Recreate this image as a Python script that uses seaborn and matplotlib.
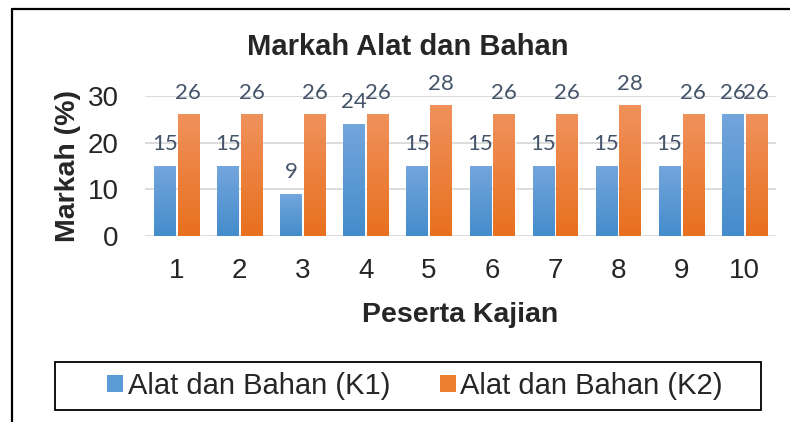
import numpy as np
import pandas as pd
import matplotlib
matplotlib.use('Agg')
import matplotlib.pyplot as plt
from matplotlib.lines import Line2D
from matplotlib.patches import Rectangle, Patch
import seaborn as sns

# Data
peserta = ['1', '2', '3', '4', '5', '6', '7', '8', '9', '10']
k1 = [15, 15, 9, 24, 15, 15, 15, 15, 15, 26]
k2 = [26, 26, 26, 26, 28, 26, 26, 28, 26, 26]
series = ['Alat dan Bahan (K1)', 'Alat dan Bahan (K2)']

df = pd.DataFrame({
    'Peserta': peserta * 2,
    'Markah': k1 + k2,
    'Siri': [series[0]] * len(k1) + [series[1]] * len(k2),
})

sns.set_theme(style='white')
plt.rcParams['font.family'] = ['Liberation Sans', 'DejaVu Sans']

# gradient colours (top, bottom) like Excel fill
grads = [((0.45, 0.65, 0.86), (0.27, 0.55, 0.80)),
         ((0.94, 0.57, 0.36), (0.91, 0.44, 0.12))]
palette = {series[0]: '#5B9BD5', series[1]: '#ED7D31'}

fig = plt.figure(figsize=(7.9, 4.22), dpi=100)
ax = fig.add_axes([145 / 790, 1 - 236 / 422, 631 / 790, 140 / 422])

sns.barplot(data=df, x='Peserta', y='Markah', hue='Siri', palette=palette,
            width=0.75, gap=0.1, ax=ax, legend=False, saturation=1)

t = np.linspace(0, 1, 128)[:, None]
for cont, (top, bot) in zip(ax.containers, grads):
    top = np.array(top); bot = np.array(bot)
    img = (top * (1 - t[..., None]) + bot * t[..., None])
    for bar in cont:
        x0, y0 = bar.get_x(), bar.get_y()
        w, h = bar.get_width(), bar.get_height()
        ax.imshow(img, extent=[x0, x0 + w, y0, y0 + h], aspect='auto',
                  origin='upper', zorder=2, interpolation='bilinear')
        bar.set_facecolor('none')
    ax.bar_label(cont, padding=8.5, fontsize=16, color='#44546A',
                 family='Lato', clip_on=False)

ax.set_xlim(-0.5, 9.5)
ax.set_ylim(0, 30)
ax.set_yticks([0, 10, 20, 30])
ax.yaxis.grid(True, color='#D9D9D9', lw=1.3)
ax.set_axisbelow(True)
for s in ax.spines.values():
    s.set_visible(False)
ax.tick_params(axis='y', length=0, pad=19, labelsize=20)
ax.tick_params(axis='x', length=0, pad=16, labelsize=20)
ax.set_xlabel('Peserta Kajian', fontsize=20.5, fontweight='bold', labelpad=13)
ax.set_ylabel('Markah (%)', fontsize=20.5, fontweight='bold', labelpad=5)

fig.text(408 / 790, 1 - 55 / 422, 'Markah Alat dan Bahan', ha='center',
         va='baseline', fontsize=21, fontweight='bold')

# legend with its own box
handles = [Patch(facecolor=palette[s], edgecolor='none') for s in series]
fig.legend(handles, series, loc='center', bbox_to_anchor=(415 / 790, 1 - 386 / 422),
           ncol=2, frameon=False, fontsize=21, handlelength=0.55, handleheight=0.55,
           handletextpad=0.15, columnspacing=1.7)
fig.add_artist(Rectangle((55 / 790, 1 - 410 / 422), 706 / 790, 48 / 422,
                         transform=fig.transFigure, fill=False, edgecolor='black', lw=1.3))

# outer border (left and top visible)
fig.add_artist(Line2D([11.5 / 790, 11.5 / 790], [0, 1 - 8.5 / 422], color='black', lw=1.6,
                      transform=fig.transFigure))
fig.add_artist(Line2D([11.5 / 790, 1], [1 - 8.5 / 422, 1 - 8.5 / 422], color='black', lw=1.6,
                      transform=fig.transFigure))

fig.savefig('out.png', dpi=100)
